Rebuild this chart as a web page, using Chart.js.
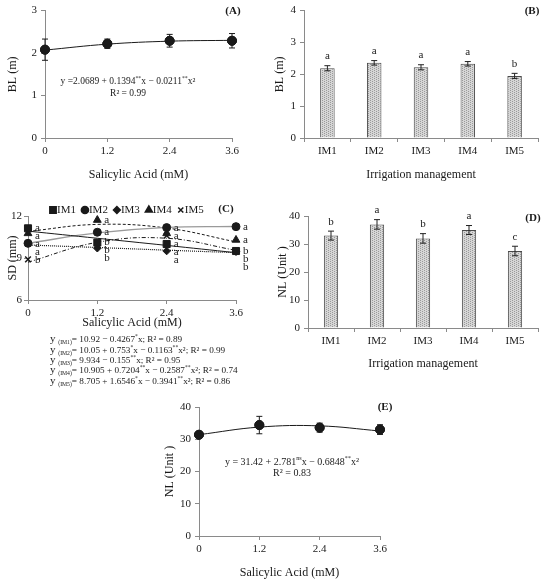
<!DOCTYPE html>
<html>
  <head>
    <script src="https://cdn.jsdelivr.net/npm/chart.js"></script>
    <style>
      body {
        margin: 0;
        background: #fff;
      }
      #sheet {
        position: relative;
        width: 550px;
        height: 582px;
        overflow: hidden;
        background: #fff;
      }
      canvas {
        position: absolute;
      }
    </style>
  </head>
  <body>
    <div id="sheet">
      <canvas id="chartA" width="275" height="190" style="left:0;top:0"></canvas>
      <canvas id="chartB" width="288" height="190" style="left:262px;top:0"></canvas>
      <canvas id="chartC" width="262" height="200" style="left:0;top:195px"></canvas>
      <canvas id="chartD" width="288" height="195" style="left:262px;top:195px"></canvas>
      <canvas id="chartE" width="300" height="192" style="left:120px;top:390px"></canvas>
    </div>

    <script>
      // x levels and categories
      const saLevels = [0, 1.2, 2.4, 3.6];
      const saTickLabels = ['0', '1.2', '2.4', '3.6'];
      const imCategories = ['IM1', 'IM2', 'IM3', 'IM4', 'IM5'];

      // (A) branch length vs salicylic acid
      const blSa = [2.08, 2.22, 2.29, 2.29];
      const blSaErr = [0.25, 0.11, 0.15, 0.17];
      const blSaFit = [2.07, 2.21, 2.28, 2.30];

      // (B) branch length vs irrigation
      const blIm = [2.19, 2.36, 2.22, 2.33, 1.95];
      const blImErr = [0.08, 0.07, 0.08, 0.07, 0.08];
      const blImLetters = ['a', 'a', 'a', 'a', 'b'];

      // (C) stem diameter, one series per irrigation level
      const sdIm1 = [11.12, 10.1, 10.0, 9.5];
      const sdIm2 = [10.05, 10.84, 11.17, 11.24];
      const sdIm3 = [10.05, 9.7, 9.5, 9.45];
      const sdIm4 = [10.76, 11.71, 10.76, 10.29];
      const sdIm5 = [8.9, 10.1, 10.6, 9.5];
      const sdIm1Fit = [10.92, 10.41, 9.90, 9.38];
      const sdIm2Fit = [10.05, 10.79, 11.19, 11.25];
      const sdIm3Fit = [9.93, 9.75, 9.56, 9.38];
      const sdIm4Fit = [10.9, 11.4, 11.14, 10.15];
      const sdIm5Fit = [8.7, 10.12, 10.41, 9.55];
      const sdIm1Letters = ['a', 'b', 'a', 'b'];
      const sdIm2Letters = ['a', 'a', 'a', 'a'];
      const sdIm3Letters = ['a', 'b', 'a', 'b'];
      const sdIm4Letters = ['a', 'a', 'a', 'a'];
      const sdIm5Letters = ['b', 'b', 'a', 'b'];

      // (D) number of leaves vs irrigation
      const nlIm = [33.0, 37.0, 32.0, 35.0, 27.5];
      const nlImErr = [1.6, 1.7, 1.7, 1.6, 1.7];
      const nlImLetters = ['b', 'a', 'b', 'a', 'c'];

      // (E) number of leaves vs salicylic acid
      const nlSa = [31.4, 34.4, 33.6, 33.0];
      const nlSaErr = [0.8, 2.7, 1.4, 1.5];
      const nlSaFit = [31.42, 33.77, 34.15, 32.56];

      const SERIF = '"Liberation Serif", "DejaVu Serif", serif';
      const INK = '#1a1a1a';
      const AXIS = '#8a8a8a';

      Chart.defaults.font.family = SERIF;
      Chart.defaults.color = INK;
      Chart.defaults.animation = false;

      // text pieces are always objects (chart.js option resolver needs that)
      const tx = t => ({ t });
      const sup = t => ({ t, sup: true });
      const sub = t => ({ t, sub: true });
      const big = t => ({ t, big: true });

      // draws a line of text made of plain, superscript and subscript pieces
      function drawRich(ctx, parts, x, y, align, size) {
        const segs = [];
        for (let k = 0; k < parts.length; k++) {
          const p = parts[k];
          segs.push(typeof p === 'string' ? { t: p } : { t: p.t, sup: p.sup, sub: p.sub, big: p.big });
        }
        const fontFor = s => (s.sup || s.sub ? size * 0.62 : s.big ? size * 1.2 : size) + 'px ' + SERIF;
        let w = 0;
        segs.forEach(s => {
          ctx.font = fontFor(s);
          s.w = ctx.measureText(s.t).width;
          w += s.w;
        });
        let cx = align === 'center' ? x - w / 2 : align === 'right' ? x - w : x;
        const base = y + size * 0.35;
        ctx.textAlign = 'left';
        ctx.textBaseline = 'alphabetic';
        segs.forEach(s => {
          ctx.font = fontFor(s);
          const dy = s.sup ? -size * 0.42 : s.sub ? size * 0.22 : 0;
          ctx.fillText(s.t, cx, base + dy);
          cx += s.w;
        });
      }

      const errorBars = {
        id: 'errorBars',
        afterDatasetsDraw(chart, args, opts) {
          const ctx = chart.ctx;
          const y = chart.scales.y;
          chart.data.datasets.forEach((ds, di) => {
            if (!ds.errors) return;
            const meta = chart.getDatasetMeta(di);
            ctx.save();
            ctx.strokeStyle = opts.color || INK;
            ctx.lineWidth = 1;
            meta.data.forEach((el, i) => {
              const v = ds.data[i].y !== undefined ? ds.data[i].y : ds.data[i];
              const top = y.getPixelForValue(v + ds.errors[i]);
              const bot = y.getPixelForValue(v - ds.errors[i]);
              const cap = opts.cap || 3;
              ctx.beginPath();
              ctx.moveTo(el.x, top); ctx.lineTo(el.x, bot);
              ctx.moveTo(el.x - cap, top); ctx.lineTo(el.x + cap, top);
              ctx.moveTo(el.x - cap, bot); ctx.lineTo(el.x + cap, bot);
              ctx.stroke();
            });
            ctx.restore();
          });
          // redraw point markers over the whiskers of line charts
          if (opts.pointsOnTop) {
            chart.data.datasets.forEach((ds, di) => {
              if (ds.errors && ds.pointRadius) chart.getDatasetMeta(di).data.forEach(el => el.draw(ctx));
            });
          }
        }
      };

      const letters = {
        id: 'letters',
        afterDatasetsDraw(chart, args, opts) {
          const ctx = chart.ctx;
          const y = chart.scales.y;
          ctx.save();
          ctx.fillStyle = INK;
          ctx.font = (opts.size || 11) + 'px ' + SERIF;
          if (opts.mode === 'bar') {
            ctx.textAlign = 'center';
            ctx.textBaseline = 'bottom';
            chart.data.datasets.forEach((ds, di) => {
              if (!ds.letters) return;
              chart.getDatasetMeta(di).data.forEach((el, i) => {
                const top = y.getPixelForValue(ds.data[i] + (ds.errors ? ds.errors[i] : 0));
                ctx.fillText(ds.letters[i], el.x, top - (opts.lift || 3));
              });
            });
          } else {
            // letters beside points, pushed apart so they do not overlap
            ctx.textAlign = 'left';
            ctx.textBaseline = 'middle';
            const n = chart.data.datasets[0].data.length;
            for (let i = 0; i < n; i++) {
              const items = [];
              chart.data.datasets.forEach((ds, di) => {
                if (!ds.letters) return;
                const el = chart.getDatasetMeta(di).data[i];
                items.push({ t: ds.letters[i], x: el.x, y: el.y });
              });
              items.sort((a, b) => a.y - b.y);
              let last = -1e9;
              items.forEach(it => {
                const yy = Math.max(it.y, last + (opts.gap || 8));
                ctx.fillText(it.t, it.x + 7, yy);
                last = yy;
              });
            }
          }
          ctx.restore();
        }
      };

      const notes = {
        id: 'notes',
        afterDraw(chart, args, opts) {
          const ctx = chart.ctx;
          ctx.save();
          ctx.fillStyle = INK;
          (opts.items || []).forEach(n => {
            if (n.bold) {
              ctx.font = 'bold ' + n.size + 'px ' + SERIF;
              ctx.textAlign = n.align || 'center';
              ctx.textBaseline = 'middle';
              ctx.fillText(n.parts[0].t, n.x, n.y);
            } else {
              drawRich(ctx, n.parts, n.x, n.y, n.align || 'center', n.size);
            }
          });
          ctx.restore();
        }
      };

      const markerLegend = {
        id: 'markerLegend',
        afterDraw(chart, args, opts) {
          if (!opts.items) return;
          const ctx = chart.ctx;
          ctx.save();
          ctx.font = opts.size + 'px ' + SERIF;
          ctx.textAlign = 'left';
          ctx.textBaseline = 'middle';
          let x = opts.x;
          opts.items.forEach(it => {
            ctx.fillStyle = INK;
            ctx.strokeStyle = INK;
            ctx.lineWidth = 1.5;
            Chart.helpers.drawPoint(ctx, { pointStyle: it.style, radius: it.radius * 0.9, rotation: 0, borderWidth: 1.5 }, x + 4, opts.y);
            ctx.fillStyle = INK;
            ctx.fillText(it.text, x + 8, opts.y);
            x += 8 + ctx.measureText(it.text).width + opts.gap;
          });
          ctx.restore();
        }
      };

      Chart.register(errorBars, letters, notes, markerLegend);

      function stipple() {
        const c = document.createElement('canvas');
        c.width = 4; c.height = 4;
        const g = c.getContext('2d');
        g.fillStyle = '#d6d6d6'; g.fillRect(0, 0, 4, 4);
        g.fillStyle = '#9a9a9a';
        g.fillRect(0, 0, 1, 1); g.fillRect(2, 1, 1, 1); g.fillRect(0, 2, 1, 1); g.fillRect(2, 3, 1, 1);
        return g.createPattern(c, 'repeat');
      }

      // common axis styling; box gives the plot rectangle inside the canvas
      function axes(box, xCfg, yCfg) {
        const grid = { display: true, drawOnChartArea: false, drawTicks: true, tickLength: 4, color: AXIS };
        const border = { display: true, color: AXIS, width: 1 };
        return {
          x: Object.assign({
            grid, border,
            ticks: { font: { size: 11 }, padding: 3, maxRotation: 0, autoSkip: false },
            title: { display: true, text: box.xTitle, font: { size: 12 }, padding: { top: 0, bottom: box.xTitlePad } },
            afterFit(s) { s.height = box.h - box.bottom; }
          }, xCfg),
          y: Object.assign({
            grid, border,
            ticks: { font: { size: 11 }, padding: box.yTickPad || 4 },
            title: { display: true, text: box.yTitle, font: { size: 12 }, padding: { top: box.yTitlePad, bottom: 0 } },
            afterFit(s) { s.width = box.left; }
          }, yCfg)
        };
      }

      function saAxis() {
        return {
          type: 'linear', min: 0, max: 3.6,
          afterBuildTicks(s) { s.ticks = saLevels.map(v => ({ value: v })); },
          ticks: {
            font: { size: 11 }, padding: 3, maxRotation: 0, autoSkip: false,
            callback: (v, i) => saTickLabels[i]
          }
        };
      }

      const pts = vals => saLevels.map((x, i) => ({ x, y: vals[i] }));

      function lineChart(id, box, vals, errs, fit, yCfg, noteItems) {
        new Chart(document.getElementById(id), {
          type: 'line',
          data: {
            datasets: [
              { data: pts(vals), errors: errs, showLine: false, pointRadius: 4.5, pointBackgroundColor: INK,
                pointBorderColor: INK, clip: false },
              { data: pts(fit), borderColor: INK, borderWidth: 1, pointRadius: 0, tension: 0.4, clip: false, fill: false }
            ]
          },
          options: {
            responsive: false,
            layout: { padding: { top: box.top, right: box.w - box.right, left: 0, bottom: 0 } },
            scales: axes(box, saAxis(), yCfg),
            plugins: {
              legend: { display: false }, tooltip: { enabled: false },
              errorBars: { cap: 3, pointsOnTop: true },
              notes: { items: noteItems }
            }
          }
        });
      }

      function barChart(id, box, vals, errs, lets, yCfg, noteItems) {
        new Chart(document.getElementById(id), {
          type: 'bar',
          data: {
            labels: imCategories,
            datasets: [{
              data: vals, errors: errs, letters: lets,
              backgroundColor: stipple(), borderColor: '#4a4a4a', borderWidth: 1,
              barPercentage: 0.31, categoryPercentage: 1
            }]
          },
          options: {
            responsive: false,
            layout: { padding: { top: box.top, right: box.w - box.right, left: 0, bottom: 0 } },
            scales: axes(box, {}, yCfg),
            plugins: {
              legend: { display: false }, tooltip: { enabled: false },
              errorBars: { cap: 3, color: '#222' },
              letters: { mode: 'bar', size: 11, lift: 4 },
              notes: { items: noteItems }
            }
          }
        });
      }

      // (A)
      lineChart('chartA',
        { w: 275, h: 190, left: 45, right: 232, top: 10, bottom: 138,
          xTitle: 'Salicylic Acid (mM)', yTitle: 'BL (m)', xTitlePad: 8, yTitlePad: 6 },
        blSa, blSaErr, blSaFit,
        { min: 0, max: 3, ticks: { stepSize: 1, font: { size: 11 }, padding: 4 } },
        [
          { parts: [tx('(A)')], bold: true, x: 233, y: 11, size: 11 },
          { parts: [tx('y =2.0689 + 0.1394'), sup('**'), tx('x − 0.0211'), sup('**'), tx('x²')], x: 128, y: 81, size: 9.5 },
          { parts: [tx('R² = 0.99')], x: 128, y: 93, size: 9.5 }
        ]);

      // (B)
      barChart('chartB',
        { w: 288, h: 190, left: 42, right: 276, top: 10, bottom: 138,
          xTitle: 'Irrigation management', yTitle: 'BL (m)', xTitlePad: 8, yTitlePad: 11 },
        blIm, blImErr, blImLetters,
        { min: 0, max: 4, ticks: { stepSize: 1, font: { size: 11 }, padding: 4 } },
        [{ parts: [tx('(B)')], bold: true, x: 270, y: 11, size: 11 }]);

      // (C)
      const cBox = { w: 262, h: 200, left: 28, right: 236, top: 21, bottom: 105,
        xTitle: 'Salicylic Acid (mM)', yTitle: 'SD (mm)', xTitlePad: 65, yTitlePad: 6, yTickPad: 2 };
      const cStyles = ['rect', 'circle', 'rectRot', 'triangle', 'crossRot'];
      const cRadii = [5, 4, 3.8, 4.5, 4];
      const cPoint = (vals, lets, k) => ({
        data: pts(vals), letters: lets, showLine: false, pointStyle: cStyles[k], pointRadius: cRadii[k],
        pointBackgroundColor: INK, pointBorderColor: INK, pointBorderWidth: k === 4 ? 1.5 : 1, clip: false
      });
      const cFit = (vals, color, dash, width) => ({
        data: pts(vals), borderColor: color, borderDash: dash, borderWidth: width,
        pointRadius: 0, tension: 0.4, clip: false, fill: false
      });
      const eqC = (name, body) => ({ parts: [big('y '), sub('(' + name + ')')].concat(body), x: 50, size: 9.2, align: 'left' });
      new Chart(document.getElementById('chartC'), {
        type: 'line',
        data: {
          datasets: [
            cPoint(sdIm1, sdIm1Letters, 0),
            cPoint(sdIm2, sdIm2Letters, 1),
            cPoint(sdIm3, sdIm3Letters, 2),
            cPoint(sdIm4, sdIm4Letters, 3),
            cPoint(sdIm5, sdIm5Letters, 4),
            cFit(sdIm1Fit, INK, [], 1),
            cFit(sdIm2Fit, '#9a9a9a', [], 1.3),
            cFit(sdIm3Fit, INK, [1, 1], 1.2),
            cFit(sdIm4Fit, INK, [3, 2], 1),
            cFit(sdIm5Fit, INK, [4, 2, 1, 2], 1)
          ]
        },
        options: {
          responsive: false,
          layout: { padding: { top: cBox.top, right: cBox.w - cBox.right, left: 0, bottom: 0 } },
          scales: axes(cBox, saAxis(), { min: 6, max: 12, ticks: { stepSize: 3, font: { size: 11 }, padding: 2 } }),
          plugins: {
            legend: { display: false }, tooltip: { enabled: false },
            letters: { mode: 'point', size: 11, gap: 8 },
            markerLegend: {
              x: 49, y: 15, size: 11, gap: 5,
              items: imCategories.map((t, i) => ({ text: t, style: cStyles[i], radius: cRadii[i] }))
            },
            notes: {
              items: [
                { parts: [tx('(C)')], bold: true, x: 226, y: 14, size: 11 },
                Object.assign(eqC('IM1', [tx('= 10.92 − 0.4267'), sup('*'), tx('x; R² = 0.89')]), { y: 144 }),
                Object.assign(eqC('IM2', [tx('= 10.05 + 0.753'), sup('*'), tx('x − 0.1163'), sup('**'), tx('x²; R² = 0.99')]), { y: 155 }),
                Object.assign(eqC('IM3', [tx('= 9.934 − 0.155'), sup('**'), tx('x; R² = 0.95')]), { y: 165 }),
                Object.assign(eqC('IM4', [tx('= 10.905 + 0.7204'), sup('**'), tx('x − 0.2587'), sup('**'), tx('x²; R² = 0.74')]), { y: 175 }),
                Object.assign(eqC('IM5', [tx('= 8.705 + 1.6546'), sup('*'), tx('x − 0.3941'), sup('**'), tx('x²; R² = 0.86')]), { y: 186 })
              ]
            }
          }
        }
      });

      // (D)
      barChart('chartD',
        { w: 288, h: 195, left: 46, right: 276, top: 21, bottom: 133,
          xTitle: 'Irrigation management', yTitle: 'NL (Unit )', xTitlePad: 19, yTitlePad: 14 },
        nlIm, nlImErr, nlImLetters,
        { min: 0, max: 40, ticks: { stepSize: 10, font: { size: 11 }, padding: 4 } },
        [{ parts: [tx('(D)')], bold: true, x: 271, y: 23, size: 11 }]);

      // (E)
      lineChart('chartE',
        { w: 300, h: 192, left: 79, right: 260, top: 17, bottom: 146,
          xTitle: 'Salicylic Acid (mM)', yTitle: 'NL (Unit )', xTitlePad: 2, yTitlePad: 43 },
        nlSa, nlSaErr, nlSaFit,
        { min: 0, max: 40, ticks: { stepSize: 10, font: { size: 11 }, padding: 4 } },
        [
          { parts: [tx('(E)')], bold: true, x: 265, y: 17, size: 11 },
          { parts: [tx('y = 31.42 + 2.781'), sup('ns'), tx('x − 0.6848'), sup('**'), tx('x²')], x: 172, y: 71, size: 10 },
          { parts: [tx('R² = 0.83')], x: 172, y: 82, size: 10 }
        ]);
    </script>
  </body>
</html>
